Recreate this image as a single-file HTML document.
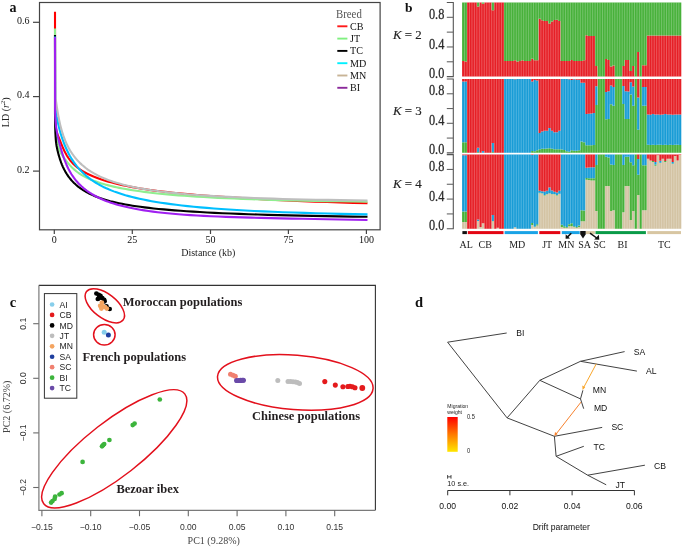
<!DOCTYPE html>
<html><head><meta charset="utf-8"><style>html,body{margin:0;padding:0;background:#fff;}svg{display:block;will-change:transform;}</style></head>
<body><svg width="685" height="547" viewBox="0 0 685 547">
<rect width="685" height="547" fill="#fff"/>
<g font-family="Liberation Serif" >
<text x="9.6" y="12.4" font-size="14" font-weight="bold" fill="#111">a</text>
<path d="M55.0,11.8 L55.10,110.11 L55.12,111.46 L55.15,112.74 L55.17,113.97 L55.20,115.14 L55.23,116.25 L55.26,117.31 L55.29,118.32 L55.32,119.28 L55.36,120.19 L55.39,121.05 L55.43,121.87 L55.47,122.65 L55.51,123.39 L55.56,124.09 L55.60,124.75 L55.65,125.38 L55.70,125.98 L55.75,126.54 L55.81,127.08 L55.86,127.59 L55.92,128.07 L55.99,128.53 L56.05,128.97 L56.12,129.39 L56.19,129.79 L56.27,130.18 L56.35,130.55 L56.43,130.91 L56.52,131.27 L56.61,131.61 L56.70,131.94 L56.80,132.28 L56.91,132.61 L57.02,132.94 L57.13,133.27 L57.25,133.60 L57.38,133.94 L57.51,134.28 L57.64,134.64 L57.79,135.00 L57.94,135.38 L58.10,135.77 L58.26,136.18 L58.44,136.61 L58.62,137.06 L58.81,137.52 L59.01,138.02 L59.22,138.54 L59.44,139.08 L59.67,139.66 L59.91,140.27 L60.16,140.91 L60.42,141.59 L60.70,142.29 L60.99,143.04 L61.29,143.81 L61.61,144.60 L61.94,145.43 L62.29,146.27 L62.65,147.14 L63.04,148.02 L63.44,148.92 L63.86,149.83 L64.29,150.76 L64.75,151.69 L65.24,152.63 L65.74,153.57 L66.27,154.52 L66.82,155.47 L67.40,156.41 L68.01,157.35 L68.64,158.29 L69.31,159.21 L70.01,160.13 L70.74,161.03 L71.50,161.93 L72.30,162.82 L73.14,163.69 L74.02,164.56 L74.94,165.41 L75.91,166.26 L76.92,167.10 L77.98,167.93 L79.09,168.75 L80.25,169.56 L81.46,170.37 L82.74,171.17 L84.07,171.96 L85.47,172.74 L86.93,173.52 L88.46,174.29 L90.07,175.05 L91.75,175.80 L93.51,176.55 L95.36,177.29 L97.29,178.03 L99.31,178.76 L101.43,179.49 L103.65,180.21 L105.98,180.93 L108.42,181.64 L110.97,182.34 L113.64,183.05 L116.44,183.74 L119.37,184.43 L122.44,185.12 L125.66,185.80 L129.03,186.47 L132.56,187.13 L136.25,187.79 L140.13,188.44 L144.18,189.08 L148.43,189.72 L152.88,190.34 L157.54,190.95 L162.42,191.56 L167.53,192.15 L172.88,192.73 L178.49,193.30 L184.37,193.86 L190.52,194.42 L196.96,194.96 L203.71,195.50 L210.78,196.03 L218.19,196.56 L225.94,197.08 L234.07,197.60 L242.58,198.12 L251.49,198.63 L260.83,199.14 L270.60,199.65 L280.84,200.15 L291.57,200.64 L302.81,201.12 L314.58,201.58 L326.90,202.03 L339.81,202.47 L353.34,202.88 L367.50,203.28" fill="none" stroke="#ff0000" stroke-width="2.1" stroke-linejoin="round"/>
<path d="M55.0,28.5 L55.10,110.19 L55.12,111.99 L55.15,113.70 L55.17,115.32 L55.20,116.85 L55.23,118.30 L55.26,119.67 L55.29,120.96 L55.32,122.18 L55.36,123.33 L55.39,124.41 L55.43,125.43 L55.47,126.39 L55.51,127.30 L55.56,128.15 L55.60,128.96 L55.65,129.71 L55.70,130.43 L55.75,131.11 L55.81,131.76 L55.86,132.37 L55.92,132.95 L55.99,133.51 L56.05,134.05 L56.12,134.58 L56.19,135.08 L56.27,135.58 L56.35,136.07 L56.43,136.56 L56.52,137.04 L56.61,137.53 L56.70,138.03 L56.80,138.53 L56.91,139.05 L57.02,139.59 L57.13,140.14 L57.25,140.72 L57.38,141.33 L57.51,141.97 L57.64,142.63 L57.79,143.32 L57.94,144.02 L58.10,144.74 L58.26,145.45 L58.44,146.17 L58.62,146.89 L58.81,147.59 L59.01,148.27 L59.22,148.93 L59.44,149.58 L59.67,150.21 L59.91,150.82 L60.16,151.41 L60.42,152.00 L60.70,152.58 L60.99,153.15 L61.29,153.72 L61.61,154.28 L61.94,154.84 L62.29,155.40 L62.65,155.97 L63.04,156.55 L63.44,157.13 L63.86,157.72 L64.29,158.32 L64.75,158.94 L65.24,159.57 L65.74,160.22 L66.27,160.90 L66.82,161.59 L67.40,162.31 L68.01,163.05 L68.64,163.80 L69.31,164.58 L70.01,165.36 L70.74,166.15 L71.50,166.95 L72.30,167.75 L73.14,168.56 L74.02,169.36 L74.94,170.15 L75.91,170.94 L76.92,171.73 L77.98,172.51 L79.09,173.28 L80.25,174.05 L81.46,174.81 L82.74,175.56 L84.07,176.31 L85.47,177.05 L86.93,177.79 L88.46,178.51 L90.07,179.23 L91.75,179.95 L93.51,180.65 L95.36,181.35 L97.29,182.04 L99.31,182.72 L101.43,183.40 L103.65,184.06 L105.98,184.72 L108.42,185.37 L110.97,186.00 L113.64,186.63 L116.44,187.26 L119.37,187.87 L122.44,188.47 L125.66,189.06 L129.03,189.65 L132.56,190.22 L136.25,190.78 L140.13,191.33 L144.18,191.87 L148.43,192.40 L152.88,192.92 L157.54,193.43 L162.42,193.93 L167.53,194.41 L172.88,194.89 L178.49,195.35 L184.37,195.79 L190.52,196.23 L196.96,196.65 L203.71,197.06 L210.78,197.46 L218.19,197.84 L225.94,198.21 L234.07,198.57 L242.58,198.91 L251.49,199.23 L260.83,199.55 L270.60,199.85 L280.84,200.13 L291.57,200.40 L302.81,200.65 L314.58,200.89 L326.90,201.11 L339.81,201.31 L353.34,201.50 L367.50,201.68" fill="none" stroke="#90ee90" stroke-width="2.1" stroke-linejoin="round"/>
<path d="M55.0,35 L55.00,112.20 L55.02,114.02 L55.04,115.76 L55.06,117.44 L55.08,119.05 L55.11,120.59 L55.13,122.07 L55.16,123.49 L55.19,124.85 L55.22,126.15 L55.25,127.40 L55.28,128.59 L55.31,129.74 L55.35,130.83 L55.38,131.88 L55.42,132.88 L55.46,133.84 L55.50,134.76 L55.55,135.65 L55.59,136.49 L55.64,137.30 L55.69,138.08 L55.75,138.83 L55.80,139.56 L55.86,140.25 L55.93,140.92 L55.99,141.57 L56.06,142.21 L56.13,142.82 L56.21,143.42 L56.28,144.00 L56.37,144.58 L56.45,145.14 L56.55,145.70 L56.64,146.26 L56.74,146.81 L56.85,147.36 L56.96,147.91 L57.07,148.46 L57.19,149.03 L57.32,149.59 L57.45,150.17 L57.59,150.76 L57.74,151.37 L57.90,151.99 L58.06,152.63 L58.23,153.28 L58.41,153.95 L58.59,154.64 L58.79,155.35 L58.99,156.07 L59.21,156.81 L59.44,157.56 L59.67,158.32 L59.92,159.10 L60.18,159.89 L60.46,160.69 L60.75,161.50 L61.05,162.32 L61.36,163.16 L61.70,164.00 L62.04,164.86 L62.41,165.72 L62.79,166.59 L63.20,167.46 L63.62,168.35 L64.06,169.24 L64.52,170.13 L65.01,171.04 L65.52,171.94 L66.06,172.85 L66.62,173.77 L67.21,174.68 L67.83,175.60 L68.48,176.52 L69.16,177.44 L69.88,178.36 L70.63,179.28 L71.41,180.20 L72.24,181.12 L73.11,182.04 L74.01,182.95 L74.97,183.86 L75.97,184.77 L77.02,185.67 L78.12,186.57 L79.27,187.46 L80.48,188.35 L81.75,189.22 L83.09,190.10 L84.48,190.96 L85.95,191.81 L87.49,192.66 L89.11,193.50 L90.80,194.32 L92.58,195.14 L94.44,195.94 L96.40,196.73 L98.45,197.51 L100.60,198.27 L102.86,199.02 L105.23,199.76 L107.72,200.48 L110.32,201.19 L113.06,201.87 L115.93,202.55 L118.94,203.20 L122.10,203.84 L125.42,204.47 L128.89,205.08 L132.54,205.67 L136.37,206.25 L140.38,206.82 L144.59,207.36 L149.01,207.90 L153.65,208.42 L158.51,208.92 L163.61,209.41 L168.96,209.89 L174.58,210.35 L180.47,210.80 L186.65,211.23 L193.13,211.65 L199.93,212.06 L207.07,212.45 L214.55,212.83 L222.41,213.19 L230.64,213.55 L239.29,213.89 L248.35,214.21 L257.87,214.53 L267.85,214.83 L278.32,215.12 L289.30,215.40 L300.82,215.66 L312.91,215.91 L325.59,216.16 L338.90,216.39 L352.86,216.60 L367.50,216.81" fill="none" stroke="#000000" stroke-width="2.1" stroke-linejoin="round"/>
<path d="M55.0,36.5 L55.20,105.55 L55.23,105.79 L55.26,106.03 L55.29,106.29 L55.32,106.56 L55.35,106.83 L55.39,107.12 L55.42,107.42 L55.46,107.73 L55.50,108.05 L55.54,108.38 L55.58,108.72 L55.63,109.07 L55.68,109.43 L55.73,109.81 L55.78,110.19 L55.83,110.59 L55.89,111.00 L55.95,111.42 L56.01,111.85 L56.08,112.30 L56.14,112.76 L56.22,113.23 L56.29,113.72 L56.37,114.21 L56.45,114.72 L56.53,115.25 L56.62,115.79 L56.72,116.34 L56.81,116.90 L56.92,117.48 L57.02,118.07 L57.13,118.68 L57.25,119.30 L57.37,119.94 L57.50,120.59 L57.63,121.25 L57.77,121.93 L57.92,122.63 L58.07,123.34 L58.23,124.06 L58.40,124.81 L58.57,125.56 L58.76,126.34 L58.95,127.13 L59.15,127.93 L59.36,128.75 L59.58,129.59 L59.81,130.45 L60.05,131.32 L60.30,132.21 L60.56,133.12 L60.83,134.04 L61.12,134.98 L61.42,135.94 L61.73,136.92 L62.06,137.91 L62.41,138.92 L62.77,139.95 L63.14,141.00 L63.53,142.07 L63.95,143.15 L64.38,144.25 L64.83,145.37 L65.30,146.50 L65.79,147.65 L66.30,148.80 L66.84,149.97 L67.41,151.15 L68.00,152.34 L68.61,153.54 L69.26,154.75 L69.93,155.97 L70.64,157.19 L71.38,158.42 L72.15,159.65 L72.96,160.89 L73.80,162.13 L74.69,163.37 L75.61,164.61 L76.58,165.86 L77.59,167.10 L78.65,168.34 L79.76,169.58 L80.92,170.82 L82.13,172.05 L83.40,173.27 L84.72,174.49 L86.11,175.70 L87.56,176.90 L89.08,178.10 L90.66,179.28 L92.32,180.46 L94.06,181.62 L95.88,182.76 L97.78,183.90 L99.77,185.02 L101.85,186.12 L104.02,187.21 L106.30,188.28 L108.68,189.33 L111.17,190.36 L113.77,191.37 L116.50,192.36 L119.34,193.33 L122.33,194.28 L125.44,195.22 L128.71,196.13 L132.12,197.02 L135.69,197.89 L139.42,198.74 L143.32,199.56 L147.41,200.37 L151.68,201.16 L156.15,201.93 L160.83,202.68 L165.72,203.40 L170.83,204.11 L176.19,204.79 L181.78,205.46 L187.64,206.10 L193.77,206.73 L200.17,207.33 L206.87,207.91 L213.89,208.47 L221.22,209.01 L228.89,209.53 L236.92,210.02 L245.31,210.50 L254.09,210.96 L263.27,211.39 L272.88,211.80 L282.93,212.19 L293.44,212.56 L304.44,212.91 L315.94,213.24 L327.98,213.54 L340.56,213.83 L353.73,214.09 L367.50,214.33" fill="none" stroke="#00bfff" stroke-width="2.1" stroke-linejoin="round"/>
<path d="M55.0,40 L55.20,99.78 L55.23,99.78 L55.26,99.78 L55.29,99.78 L55.32,99.78 L55.35,99.78 L55.39,99.78 L55.42,99.78 L55.46,99.78 L55.50,99.78 L55.54,99.78 L55.58,99.78 L55.63,99.78 L55.68,99.78 L55.73,99.78 L55.78,99.87 L55.83,100.16 L55.89,100.48 L55.95,100.83 L56.01,101.22 L56.08,101.63 L56.14,102.08 L56.22,102.55 L56.29,103.05 L56.37,103.58 L56.45,104.14 L56.53,104.72 L56.62,105.33 L56.72,105.96 L56.81,106.62 L56.92,107.31 L57.02,108.02 L57.13,108.75 L57.25,109.50 L57.37,110.27 L57.50,111.07 L57.63,111.89 L57.77,112.73 L57.92,113.58 L58.07,114.46 L58.23,115.35 L58.40,116.27 L58.57,117.20 L58.76,118.14 L58.95,119.10 L59.15,120.08 L59.36,121.07 L59.58,122.08 L59.81,123.10 L60.05,124.13 L60.30,125.18 L60.56,126.24 L60.83,127.30 L61.12,128.38 L61.42,129.47 L61.73,130.57 L62.06,131.68 L62.41,132.79 L62.77,133.92 L63.14,135.05 L63.53,136.19 L63.95,137.33 L64.38,138.48 L64.83,139.63 L65.30,140.79 L65.79,141.95 L66.30,143.11 L66.84,144.28 L67.41,145.44 L68.00,146.61 L68.61,147.78 L69.26,148.95 L69.93,150.12 L70.64,151.29 L71.38,152.45 L72.15,153.61 L72.96,154.77 L73.80,155.93 L74.69,157.08 L75.61,158.23 L76.58,159.37 L77.59,160.51 L78.65,161.63 L79.76,162.76 L80.92,163.87 L82.13,164.98 L83.40,166.07 L84.72,167.16 L86.11,168.24 L87.56,169.30 L89.08,170.36 L90.66,171.40 L92.32,172.43 L94.06,173.45 L95.88,174.45 L97.78,175.44 L99.77,176.42 L101.85,177.37 L104.02,178.32 L106.30,179.24 L108.68,180.15 L111.17,181.04 L113.77,181.91 L116.50,182.77 L119.34,183.60 L122.33,184.41 L125.44,185.21 L128.71,185.98 L132.12,186.73 L135.69,187.46 L139.42,188.18 L143.32,188.87 L147.41,189.54 L151.68,190.19 L156.15,190.83 L160.83,191.44 L165.72,192.03 L170.83,192.61 L176.19,193.16 L181.78,193.70 L187.64,194.21 L193.77,194.71 L200.17,195.19 L206.87,195.65 L213.89,196.08 L221.22,196.51 L228.89,196.91 L236.92,197.29 L245.31,197.66 L254.09,198.00 L263.27,198.33 L272.88,198.64 L282.93,198.93 L293.44,199.20 L304.44,199.46 L315.94,199.69 L327.98,199.91 L340.56,200.11 L353.73,200.29 L367.50,200.46" fill="none" stroke="#bebebe" stroke-width="2.1" stroke-linejoin="round"/>
<path d="M55.0,37.2 L55.10,112.22 L55.12,113.00 L55.15,113.76 L55.17,114.50 L55.20,115.22 L55.23,115.92 L55.26,116.60 L55.29,117.27 L55.32,117.92 L55.36,118.56 L55.39,119.18 L55.43,119.80 L55.47,120.40 L55.51,120.98 L55.56,121.56 L55.60,122.13 L55.65,122.70 L55.70,123.25 L55.75,123.80 L55.81,124.35 L55.86,124.89 L55.92,125.43 L55.99,125.97 L56.05,126.50 L56.12,127.04 L56.19,127.57 L56.27,128.11 L56.35,128.65 L56.43,129.20 L56.52,129.75 L56.61,130.31 L56.70,130.87 L56.80,131.44 L56.91,132.02 L57.02,132.61 L57.13,133.21 L57.25,133.82 L57.38,134.45 L57.51,135.09 L57.64,135.74 L57.79,136.41 L57.94,137.09 L58.10,137.80 L58.26,138.52 L58.44,139.26 L58.62,140.02 L58.81,140.80 L59.01,141.61 L59.22,142.44 L59.44,143.29 L59.67,144.17 L59.91,145.07 L60.16,146.00 L60.42,146.96 L60.70,147.95 L60.99,148.97 L61.29,150.02 L61.61,151.10 L61.94,152.20 L62.29,153.33 L62.65,154.47 L63.04,155.64 L63.44,156.82 L63.86,158.03 L64.29,159.24 L64.75,160.47 L65.24,161.71 L65.74,162.95 L66.27,164.20 L66.82,165.46 L67.40,166.72 L68.01,167.98 L68.64,169.24 L69.31,170.50 L70.01,171.75 L70.74,173.00 L71.50,174.24 L72.30,175.47 L73.14,176.71 L74.02,177.93 L74.94,179.14 L75.91,180.35 L76.92,181.55 L77.98,182.74 L79.09,183.92 L80.25,185.09 L81.46,186.24 L82.74,187.39 L84.07,188.52 L85.47,189.64 L86.93,190.74 L88.46,191.84 L90.07,192.91 L91.75,193.97 L93.51,195.01 L95.36,196.04 L97.29,197.05 L99.31,198.04 L101.43,199.01 L103.65,199.97 L105.98,200.90 L108.42,201.81 L110.97,202.71 L113.64,203.58 L116.44,204.43 L119.37,205.26 L122.44,206.06 L125.66,206.84 L129.03,207.60 L132.56,208.34 L136.25,209.05 L140.13,209.73 L144.18,210.39 L148.43,211.03 L152.88,211.63 L157.54,212.22 L162.42,212.77 L167.53,213.30 L172.88,213.79 L178.49,214.26 L184.37,214.70 L190.52,215.12 L196.96,215.50 L203.71,215.87 L210.78,216.21 L218.19,216.53 L225.94,216.83 L234.07,217.12 L242.58,217.39 L251.49,217.65 L260.83,217.89 L270.60,218.13 L280.84,218.37 L291.57,218.59 L302.81,218.82 L314.58,219.04 L326.90,219.27 L339.81,219.50 L353.34,219.73 L367.50,219.97" fill="none" stroke="#a020f0" stroke-width="2.1" stroke-linejoin="round"/>
<rect x="39.5" y="2.5" width="340.6" height="227.3" fill="none" stroke="#444" stroke-width="1.2"/>
<line x1="33" y1="22.3" x2="39.5" y2="22.3" stroke="#444" stroke-width="1.2"/>
<text x="29.6" y="23.8" font-size="10" text-anchor="end" fill="#111">0.6</text>
<line x1="33" y1="96.6" x2="39.5" y2="96.6" stroke="#444" stroke-width="1.2"/>
<text x="29.6" y="98.1" font-size="10" text-anchor="end" fill="#111">0.4</text>
<line x1="33" y1="171.1" x2="39.5" y2="171.1" stroke="#444" stroke-width="1.2"/>
<text x="29.6" y="172.6" font-size="10" text-anchor="end" fill="#111">0.2</text>
<line x1="54.3" y1="229.8" x2="54.3" y2="234" stroke="#444" stroke-width="1.2"/>
<text x="54.3" y="243.3" font-size="10" text-anchor="middle" fill="#111">0</text>
<line x1="132.3" y1="229.8" x2="132.3" y2="234" stroke="#444" stroke-width="1.2"/>
<text x="132.3" y="243.3" font-size="10" text-anchor="middle" fill="#111">25</text>
<line x1="210.5" y1="229.8" x2="210.5" y2="234" stroke="#444" stroke-width="1.2"/>
<text x="210.5" y="243.3" font-size="10" text-anchor="middle" fill="#111">50</text>
<line x1="288.4" y1="229.8" x2="288.4" y2="234" stroke="#444" stroke-width="1.2"/>
<text x="288.4" y="243.3" font-size="10" text-anchor="middle" fill="#111">75</text>
<line x1="366.4" y1="229.8" x2="366.4" y2="234" stroke="#444" stroke-width="1.2"/>
<text x="366.4" y="243.3" font-size="10" text-anchor="middle" fill="#111">100</text>
<text x="208.3" y="255.9" font-size="10" text-anchor="middle" fill="#222">Distance (kb)</text>
<text transform="translate(8.8,112.3) rotate(-90)" font-size="10" text-anchor="middle" fill="#222">LD (<tspan font-style="italic">r</tspan><tspan font-size="6.5" dy="-4">2</tspan><tspan dy="4">)</tspan></text>
<text transform="translate(336,17.8) scale(1,1.08)" font-size="10.8" fill="#555">Breed</text>
<line x1="337.3" y1="26.3" x2="347.4" y2="26.3" stroke="#ff1a1a" stroke-width="1.9"/>
<text transform="translate(350,29.8) scale(1,1.06)" font-size="10.1" fill="#111">CB</text>
<line x1="337.3" y1="38.6" x2="347.4" y2="38.6" stroke="#80f080" stroke-width="1.9"/>
<text transform="translate(350,42.1) scale(1,1.06)" font-size="10.1" fill="#111">JT</text>
<line x1="337.3" y1="50.9" x2="347.4" y2="50.9" stroke="#000" stroke-width="1.9"/>
<text transform="translate(350,54.4) scale(1,1.06)" font-size="10.1" fill="#111">TC</text>
<line x1="337.3" y1="63.2" x2="347.4" y2="63.2" stroke="#00f0ff" stroke-width="1.9"/>
<text transform="translate(350,66.7) scale(1,1.06)" font-size="10.1" fill="#111">MD</text>
<line x1="337.3" y1="75.5" x2="347.4" y2="75.5" stroke="#c8b496" stroke-width="1.9"/>
<text transform="translate(350,79.0) scale(1,1.06)" font-size="10.1" fill="#111">MN</text>
<line x1="337.3" y1="87.8" x2="347.4" y2="87.8" stroke="#8b2a9b" stroke-width="1.9"/>
<text transform="translate(350,91.3) scale(1,1.06)" font-size="10.1" fill="#111">BI</text>
</g>
<g font-family="Liberation Serif">
<text x="405" y="12.1" font-size="13.5" font-weight="bold" fill="#111">b</text>
<path d="M462.10,76.60V61.04H464.56V76.60ZM464.56,76.60V61.41H467.03V76.60ZM467.03,76.60V2.50H469.49V76.60ZM469.49,76.60V2.50H471.95V76.60ZM471.95,76.60V2.50H474.41V76.60ZM474.41,76.60V2.50H476.88V76.60ZM476.88,76.60V6.43H479.34V76.60ZM479.34,76.60V2.50H481.80V76.60ZM481.80,76.60V3.69H484.27V76.60ZM484.27,76.60V2.50H486.73V76.60ZM486.73,76.60V2.50H489.19V76.60ZM489.19,76.60V2.50H491.66V76.60ZM491.66,76.60V10.28H494.12V76.60ZM494.12,76.60V2.50H496.58V76.60ZM496.58,76.60V2.50H499.04V76.60ZM499.04,76.60V2.50H501.51V76.60ZM501.51,76.60V2.50H503.97V76.60ZM503.97,76.60V61.04H506.43V76.60ZM506.43,76.60V61.04H508.90V76.60ZM508.90,76.60V61.04H511.36V76.60ZM511.36,76.60V61.04H513.82V76.60ZM513.82,76.60V60.30H516.28V76.60ZM516.28,76.60V61.41H518.75V76.60ZM518.75,76.60V61.04H521.21V76.60ZM521.21,76.60V60.30H523.67V76.60ZM523.67,76.60V61.04H526.14V76.60ZM526.14,76.60V61.04H528.60V76.60ZM528.60,76.60V61.04H531.06V76.60ZM531.06,76.60V58.82H533.52V76.60ZM533.52,76.60V60.30H535.99V76.60ZM535.99,76.60V60.30H538.45V76.60ZM538.45,76.60V18.80H540.91V76.60ZM540.91,76.60V20.14H543.38V76.60ZM543.38,76.60V21.02H545.84V76.60ZM545.84,76.60V21.02H548.30V76.60ZM548.30,76.60V23.47H550.77V76.60ZM550.77,76.60V21.40H553.23V76.60ZM553.23,76.60V19.91H555.69V76.60ZM555.69,76.60V19.77H558.15V76.60ZM558.15,76.60V21.02H560.62V76.60ZM560.62,76.60V61.04H563.08V76.60ZM563.08,76.60V61.04H565.54V76.60ZM565.54,76.60V61.04H568.01V76.60ZM568.01,76.60V61.04H570.47V76.60ZM570.47,76.60V60.08H572.93V76.60ZM572.93,76.60V61.04H575.39V76.60ZM575.39,76.60V61.04H577.86V76.60ZM577.86,76.60V61.04H580.32V76.60ZM580.32,76.60V61.04H582.78V76.60ZM582.78,76.60V60.30H585.25V76.60ZM585.25,76.60V35.33H587.71V76.60ZM587.71,76.60V35.99H590.17V76.60ZM590.17,76.60V35.99H592.63V76.60ZM592.63,76.60V35.99H595.10V76.60ZM595.10,76.60V65.93H597.56V76.60ZM604.95,76.60V58.89H607.41V76.60ZM607.41,76.60V60.00H609.88V76.60ZM609.88,76.60V66.60H612.34V76.60ZM612.34,76.60V65.56H614.80V76.60ZM622.19,76.60V65.93H624.65V76.60ZM624.65,76.60V60.08H627.12V76.60ZM627.12,76.60V60.08H629.58V76.60ZM629.58,76.60V71.12H632.04V76.60ZM632.04,76.60V66.00H634.50V76.60ZM636.97,76.60V52.00H639.43V76.60ZM641.89,76.60V65.34H644.36V76.60ZM644.36,76.60V65.34H646.82V76.60ZM646.82,76.60V35.40H649.28V76.60ZM649.28,76.60V35.62H651.74V76.60ZM651.74,76.60V35.40H654.21V76.60ZM654.21,76.60V35.62H656.67V76.60ZM656.67,76.60V35.40H659.13V76.60ZM659.13,76.60V35.62H661.60V76.60ZM661.60,76.60V35.40H664.06V76.60ZM664.06,76.60V35.40H666.52V76.60ZM666.52,76.60V35.62H668.99V76.60ZM668.99,76.60V35.40H671.45V76.60ZM671.45,76.60V35.62H673.91V76.60ZM673.91,76.60V35.40H676.37V76.60ZM676.37,76.60V35.40H678.84V76.60ZM678.84,76.60V35.40H681.30V76.60Z" fill="#e61f26"/>
<path d="M462.10,61.04V2.50H464.56V61.04ZM464.56,61.41V2.50H467.03V61.41ZM476.88,6.43V2.50H479.34V6.43ZM481.80,3.69V2.50H484.27V3.69ZM491.66,10.28V2.50H494.12V10.28ZM503.97,61.04V2.50H506.43V61.04ZM506.43,61.04V2.50H508.90V61.04ZM508.90,61.04V2.50H511.36V61.04ZM511.36,61.04V2.50H513.82V61.04ZM513.82,60.30V2.50H516.28V60.30ZM516.28,61.41V2.50H518.75V61.41ZM518.75,61.04V2.50H521.21V61.04ZM521.21,60.30V2.50H523.67V60.30ZM523.67,61.04V2.50H526.14V61.04ZM526.14,61.04V2.50H528.60V61.04ZM528.60,61.04V2.50H531.06V61.04ZM531.06,58.82V2.50H533.52V58.82ZM533.52,60.30V2.50H535.99V60.30ZM535.99,60.30V2.50H538.45V60.30ZM538.45,18.80V2.50H540.91V18.80ZM540.91,20.14V2.50H543.38V20.14ZM543.38,21.02V2.50H545.84V21.02ZM545.84,21.02V2.50H548.30V21.02ZM548.30,23.47V2.50H550.77V23.47ZM550.77,21.40V2.50H553.23V21.40ZM553.23,19.91V2.50H555.69V19.91ZM555.69,19.77V2.50H558.15V19.77ZM558.15,21.02V2.50H560.62V21.02ZM560.62,61.04V2.50H563.08V61.04ZM563.08,61.04V2.50H565.54V61.04ZM565.54,61.04V2.50H568.01V61.04ZM568.01,61.04V2.50H570.47V61.04ZM570.47,60.08V2.50H572.93V60.08ZM572.93,61.04V2.50H575.39V61.04ZM575.39,61.04V2.50H577.86V61.04ZM577.86,61.04V2.50H580.32V61.04ZM580.32,61.04V2.50H582.78V61.04ZM582.78,60.30V2.50H585.25V60.30ZM585.25,35.33V2.50H587.71V35.33ZM587.71,35.99V2.50H590.17V35.99ZM590.17,35.99V2.50H592.63V35.99ZM592.63,35.99V2.50H595.10V35.99ZM595.10,65.93V2.50H597.56V65.93ZM597.56,76.60V2.50H600.02V76.60ZM600.02,76.60V2.50H602.49V76.60ZM602.49,76.60V2.50H604.95V76.60ZM604.95,58.89V2.50H607.41V58.89ZM607.41,60.00V2.50H609.88V60.00ZM609.88,66.60V2.50H612.34V66.60ZM612.34,65.56V2.50H614.80V65.56ZM614.80,76.60V2.50H617.26V76.60ZM617.26,76.60V2.50H619.73V76.60ZM619.73,76.60V2.50H622.19V76.60ZM622.19,65.93V2.50H624.65V65.93ZM624.65,60.08V2.50H627.12V60.08ZM627.12,60.08V2.50H629.58V60.08ZM629.58,71.12V2.50H632.04V71.12ZM632.04,66.00V2.50H634.50V66.00ZM634.50,76.60V2.50H636.97V76.60ZM636.97,52.00V2.50H639.43V52.00ZM639.43,76.60V2.50H641.89V76.60ZM641.89,65.34V2.50H644.36V65.34ZM644.36,65.34V2.50H646.82V65.34ZM646.82,35.40V2.50H649.28V35.40ZM649.28,35.62V2.50H651.74V35.62ZM651.74,35.40V2.50H654.21V35.40ZM654.21,35.62V2.50H656.67V35.62ZM656.67,35.40V2.50H659.13V35.40ZM659.13,35.62V2.50H661.60V35.62ZM661.60,35.40V2.50H664.06V35.40ZM664.06,35.40V2.50H666.52V35.40ZM666.52,35.62V2.50H668.99V35.62ZM668.99,35.40V2.50H671.45V35.40ZM671.45,35.62V2.50H673.91V35.62ZM673.91,35.40V2.50H676.37V35.40ZM676.37,35.40V2.50H678.84V35.40ZM678.84,35.40V2.50H681.30V35.40Z" fill="#47b13a"/>
<path d="M464.56,2.50V76.60M467.03,2.50V76.60M469.49,2.50V76.60M471.95,2.50V76.60M474.41,2.50V76.60M476.88,2.50V76.60M479.34,2.50V76.60M481.80,2.50V76.60M484.27,2.50V76.60M486.73,2.50V76.60M489.19,2.50V76.60M491.66,2.50V76.60M494.12,2.50V76.60M496.58,2.50V76.60M499.04,2.50V76.60M501.51,2.50V76.60M503.97,2.50V76.60M506.43,2.50V76.60M508.90,2.50V76.60M511.36,2.50V76.60M513.82,2.50V76.60M516.28,2.50V76.60M518.75,2.50V76.60M521.21,2.50V76.60M523.67,2.50V76.60M526.14,2.50V76.60M528.60,2.50V76.60M531.06,2.50V76.60M533.52,2.50V76.60M535.99,2.50V76.60M538.45,2.50V76.60M540.91,2.50V76.60M543.38,2.50V76.60M545.84,2.50V76.60M548.30,2.50V76.60M550.77,2.50V76.60M553.23,2.50V76.60M555.69,2.50V76.60M558.15,2.50V76.60M560.62,2.50V76.60M563.08,2.50V76.60M565.54,2.50V76.60M568.01,2.50V76.60M570.47,2.50V76.60M572.93,2.50V76.60M575.39,2.50V76.60M577.86,2.50V76.60M580.32,2.50V76.60M582.78,2.50V76.60M585.25,2.50V76.60M587.71,2.50V76.60M590.17,2.50V76.60M592.63,2.50V76.60M595.10,2.50V76.60M597.56,2.50V76.60M600.02,2.50V76.60M602.49,2.50V76.60M604.95,2.50V76.60M607.41,2.50V76.60M609.88,2.50V76.60M612.34,2.50V76.60M614.80,2.50V76.60M617.26,2.50V76.60M619.73,2.50V76.60M622.19,2.50V76.60M624.65,2.50V76.60M627.12,2.50V76.60M629.58,2.50V76.60M632.04,2.50V76.60M634.50,2.50V76.60M636.97,2.50V76.60M639.43,2.50V76.60M641.89,2.50V76.60M644.36,2.50V76.60M646.82,2.50V76.60M649.28,2.50V76.60M651.74,2.50V76.60M654.21,2.50V76.60M656.67,2.50V76.60M659.13,2.50V76.60M661.60,2.50V76.60M664.06,2.50V76.60M666.52,2.50V76.60M668.99,2.50V76.60M671.45,2.50V76.60M673.91,2.50V76.60M676.37,2.50V76.60M678.84,2.50V76.60" stroke="#fff" stroke-width="0.5" stroke-opacity="0.5" fill="none"/>
<path d="M462.10,152.85V142.14H464.56V152.85ZM464.56,152.85V142.14H467.03V152.85ZM476.88,152.85V152.11H479.34V152.85ZM491.66,152.85V152.11H494.12V152.85ZM531.06,152.85V150.93H533.52V152.85ZM533.52,152.85V151.37H535.99V152.85ZM535.99,152.85V150.19H538.45V152.85ZM538.45,152.85V149.16H540.91V152.85ZM540.91,152.85V148.79H543.38V152.85ZM543.38,152.85V148.79H545.84V152.85ZM545.84,152.85V148.57H548.30V152.85ZM548.30,152.85V148.27H550.77V152.85ZM550.77,152.85V148.79H553.23V152.85ZM553.23,152.85V149.16H555.69V152.85ZM555.69,152.85V149.16H558.15V152.85ZM558.15,152.85V149.16H560.62V152.85ZM560.62,152.85V149.38H563.08V152.85ZM563.08,152.85V149.90H565.54V152.85ZM565.54,152.85V151.37H568.01V152.85ZM568.01,152.85V151.74H570.47V152.85ZM570.47,152.85V150.19H572.93V152.85ZM572.93,152.85V150.63H575.39V152.85ZM575.39,152.85V150.63H577.86V152.85ZM577.86,152.85V150.27H580.32V152.85ZM580.32,152.85V141.55H582.78V152.85ZM582.78,152.85V142.14H585.25V152.85ZM585.25,152.85V145.32H587.71V152.85ZM587.71,152.85V145.32H590.17V152.85ZM590.17,152.85V145.32H592.63V152.85ZM592.63,152.85V145.10H595.10V152.85ZM595.10,152.85V105.07H597.56V152.85ZM597.56,152.85V79.00H600.02V152.85ZM600.02,152.85V79.00H602.49V152.85ZM602.49,152.85V79.00H604.95V152.85ZM604.95,152.85V119.32H607.41V152.85ZM607.41,152.85V118.95H609.88V152.85ZM609.88,152.85V104.33H612.34V152.85ZM612.34,152.85V105.73H614.80V152.85ZM614.80,152.85V79.00H617.26V152.85ZM617.26,152.85V79.00H619.73V152.85ZM619.73,152.85V79.00H622.19V152.85ZM622.19,152.85V104.11H624.65V152.85ZM624.65,152.85V119.03H627.12V152.85ZM627.12,152.85V119.03H629.58V152.85ZM629.58,152.85V94.43H632.04V152.85ZM632.04,152.85V105.81H634.50V152.85ZM634.50,152.85V79.00H636.97V152.85ZM636.97,152.85V129.73H639.43V152.85ZM639.43,152.85V79.00H641.89V152.85ZM641.89,152.85V105.81H644.36V152.85ZM644.36,152.85V105.81H646.82V152.85ZM646.82,152.85V144.73H649.28V152.85ZM649.28,152.85V145.10H651.74V152.85ZM651.74,152.85V144.73H654.21V152.85ZM654.21,152.85V145.10H656.67V152.85ZM656.67,152.85V144.73H659.13V152.85ZM659.13,152.85V144.73H661.60V152.85ZM661.60,152.85V145.10H664.06V152.85ZM664.06,152.85V144.73H666.52V152.85ZM666.52,152.85V145.10H668.99V152.85ZM668.99,152.85V144.73H671.45V152.85ZM671.45,152.85V145.10H673.91V152.85ZM673.91,152.85V144.73H676.37V152.85ZM676.37,152.85V144.73H678.84V152.85ZM678.84,152.85V145.10H681.30V152.85Z" fill="#47b13a"/>
<path d="M462.10,142.14V81.51H464.56V142.14ZM464.56,142.14V81.51H467.03V142.14ZM476.88,152.11V147.68H479.34V152.11ZM481.80,152.85V150.93H484.27V152.85ZM491.66,152.11V143.03H494.12V152.11ZM503.97,152.85V79.00H506.43V152.85ZM506.43,152.85V79.00H508.90V152.85ZM508.90,152.85V79.00H511.36V152.85ZM511.36,152.85V79.00H513.82V152.85ZM513.82,152.85V79.22H516.28V152.85ZM516.28,152.85V79.00H518.75V152.85ZM518.75,152.85V79.00H521.21V152.85ZM521.21,152.85V79.00H523.67V152.85ZM523.67,152.85V79.00H526.14V152.85ZM526.14,152.85V79.00H528.60V152.85ZM528.60,152.85V79.00H531.06V152.85ZM531.06,150.93V81.51H533.52V150.93ZM533.52,151.37V80.11H535.99V151.37ZM535.99,150.19V80.48H538.45V150.19ZM538.45,149.16V132.91H540.91V149.16ZM540.91,148.79V131.51H543.38V148.79ZM543.38,148.79V130.84H545.84V148.79ZM545.84,148.57V130.69H548.30V148.57ZM548.30,148.27V128.04H550.77V148.27ZM550.77,148.79V130.84H553.23V148.79ZM553.23,149.16V132.17H555.69V149.16ZM555.69,149.16V132.17H558.15V149.16ZM558.15,149.16V130.69H560.62V149.16ZM560.62,149.38V79.00H563.08V149.38ZM563.08,149.90V79.00H565.54V149.90ZM565.54,151.37V79.00H568.01V151.37ZM568.01,151.74V79.37H570.47V151.74ZM570.47,150.19V80.11H572.93V150.19ZM572.93,150.63V79.37H575.39V150.63ZM575.39,150.63V79.74H577.86V150.63ZM577.86,150.27V79.74H580.32V150.27ZM580.32,141.55V82.84H582.78V141.55ZM582.78,142.14V82.84H585.25V142.14ZM585.25,145.32V114.08H587.71V145.32ZM587.71,145.32V113.71H590.17V145.32ZM590.17,145.32V113.41H592.63V145.32ZM592.63,145.10V113.12H595.10V145.10ZM595.10,105.07V86.31H597.56V105.07ZM604.95,119.32V91.92H607.41V119.32ZM607.41,118.95V91.26H609.88V118.95ZM609.88,104.33V85.57H612.34V104.33ZM612.34,105.73V87.05H614.80V105.73ZM622.19,104.11V86.02H624.65V104.11ZM624.65,119.03V91.19H627.12V119.03ZM627.12,119.03V91.55H629.58V119.03ZM629.58,94.43V82.18H632.04V94.43ZM632.04,105.81V86.61H634.50V105.81ZM636.97,129.73V97.46H639.43V129.73ZM641.89,105.81V87.05H644.36V105.81ZM644.36,105.81V87.05H646.82V105.81ZM646.82,144.73V114.45H649.28V144.73ZM649.28,145.10V114.82H651.74V145.10ZM651.74,144.73V114.08H654.21V144.73ZM654.21,145.10V114.45H656.67V145.10ZM656.67,144.73V114.45H659.13V144.73ZM659.13,144.73V114.82H661.60V144.73ZM661.60,145.10V114.45H664.06V145.10ZM664.06,144.73V114.08H666.52V144.73ZM666.52,145.10V114.45H668.99V145.10ZM668.99,144.73V114.45H671.45V144.73ZM671.45,145.10V114.82H673.91V145.10ZM673.91,144.73V114.45H676.37V144.73ZM676.37,144.73V114.45H678.84V144.73ZM678.84,145.10V114.45H681.30V145.10Z" fill="#189cd6"/>
<path d="M462.10,81.51V79.00H464.56V81.51ZM464.56,81.51V79.00H467.03V81.51ZM467.03,152.85V79.00H469.49V152.85ZM469.49,152.85V79.00H471.95V152.85ZM471.95,152.85V79.00H474.41V152.85ZM474.41,152.85V79.00H476.88V152.85ZM476.88,147.68V79.00H479.34V147.68ZM479.34,152.85V79.00H481.80V152.85ZM481.80,150.93V79.00H484.27V150.93ZM484.27,152.85V79.00H486.73V152.85ZM486.73,152.85V79.00H489.19V152.85ZM489.19,152.85V79.00H491.66V152.85ZM491.66,143.03V79.00H494.12V143.03ZM494.12,152.85V79.00H496.58V152.85ZM496.58,152.85V79.00H499.04V152.85ZM499.04,152.85V79.00H501.51V152.85ZM501.51,152.85V79.00H503.97V152.85ZM513.82,79.22V79.00H516.28V79.22ZM531.06,81.51V79.00H533.52V81.51ZM533.52,80.11V79.00H535.99V80.11ZM535.99,80.48V79.00H538.45V80.48ZM538.45,132.91V79.00H540.91V132.91ZM540.91,131.51V79.00H543.38V131.51ZM543.38,130.84V79.00H545.84V130.84ZM545.84,130.69V79.00H548.30V130.69ZM548.30,128.04V79.00H550.77V128.04ZM550.77,130.84V79.00H553.23V130.84ZM553.23,132.17V79.00H555.69V132.17ZM555.69,132.17V79.00H558.15V132.17ZM558.15,130.69V79.00H560.62V130.69ZM568.01,79.37V79.00H570.47V79.37ZM570.47,80.11V79.00H572.93V80.11ZM572.93,79.37V79.00H575.39V79.37ZM575.39,79.74V79.00H577.86V79.74ZM577.86,79.74V79.00H580.32V79.74ZM580.32,82.84V79.00H582.78V82.84ZM582.78,82.84V79.00H585.25V82.84ZM585.25,114.08V79.00H587.71V114.08ZM587.71,113.71V79.00H590.17V113.71ZM590.17,113.41V79.00H592.63V113.41ZM592.63,113.12V79.00H595.10V113.12ZM595.10,86.31V79.00H597.56V86.31ZM604.95,91.92V79.00H607.41V91.92ZM607.41,91.26V79.00H609.88V91.26ZM609.88,85.57V79.00H612.34V85.57ZM612.34,87.05V79.00H614.80V87.05ZM622.19,86.02V79.00H624.65V86.02ZM624.65,91.19V79.00H627.12V91.19ZM627.12,91.55V79.00H629.58V91.55ZM629.58,82.18V79.00H632.04V82.18ZM632.04,86.61V79.00H634.50V86.61ZM636.97,97.46V79.00H639.43V97.46ZM641.89,87.05V79.00H644.36V87.05ZM644.36,87.05V79.00H646.82V87.05ZM646.82,114.45V79.00H649.28V114.45ZM649.28,114.82V79.00H651.74V114.82ZM651.74,114.08V79.00H654.21V114.08ZM654.21,114.45V79.00H656.67V114.45ZM656.67,114.45V79.00H659.13V114.45ZM659.13,114.82V79.00H661.60V114.82ZM661.60,114.45V79.00H664.06V114.45ZM664.06,114.08V79.00H666.52V114.08ZM666.52,114.45V79.00H668.99V114.45ZM668.99,114.45V79.00H671.45V114.45ZM671.45,114.82V79.00H673.91V114.82ZM673.91,114.45V79.00H676.37V114.45ZM676.37,114.45V79.00H678.84V114.45ZM678.84,114.45V79.00H681.30V114.45Z" fill="#e61f26"/>
<path d="M464.56,79.00V152.85M467.03,79.00V152.85M469.49,79.00V152.85M471.95,79.00V152.85M474.41,79.00V152.85M476.88,79.00V152.85M479.34,79.00V152.85M481.80,79.00V152.85M484.27,79.00V152.85M486.73,79.00V152.85M489.19,79.00V152.85M491.66,79.00V152.85M494.12,79.00V152.85M496.58,79.00V152.85M499.04,79.00V152.85M501.51,79.00V152.85M503.97,79.00V152.85M506.43,79.00V152.85M508.90,79.00V152.85M511.36,79.00V152.85M513.82,79.00V152.85M516.28,79.00V152.85M518.75,79.00V152.85M521.21,79.00V152.85M523.67,79.00V152.85M526.14,79.00V152.85M528.60,79.00V152.85M531.06,79.00V152.85M533.52,79.00V152.85M535.99,79.00V152.85M538.45,79.00V152.85M540.91,79.00V152.85M543.38,79.00V152.85M545.84,79.00V152.85M548.30,79.00V152.85M550.77,79.00V152.85M553.23,79.00V152.85M555.69,79.00V152.85M558.15,79.00V152.85M560.62,79.00V152.85M563.08,79.00V152.85M565.54,79.00V152.85M568.01,79.00V152.85M570.47,79.00V152.85M572.93,79.00V152.85M575.39,79.00V152.85M577.86,79.00V152.85M580.32,79.00V152.85M582.78,79.00V152.85M585.25,79.00V152.85M587.71,79.00V152.85M590.17,79.00V152.85M592.63,79.00V152.85M595.10,79.00V152.85M597.56,79.00V152.85M600.02,79.00V152.85M602.49,79.00V152.85M604.95,79.00V152.85M607.41,79.00V152.85M609.88,79.00V152.85M612.34,79.00V152.85M614.80,79.00V152.85M617.26,79.00V152.85M619.73,79.00V152.85M622.19,79.00V152.85M624.65,79.00V152.85M627.12,79.00V152.85M629.58,79.00V152.85M632.04,79.00V152.85M634.50,79.00V152.85M636.97,79.00V152.85M639.43,79.00V152.85M641.89,79.00V152.85M644.36,79.00V152.85M646.82,79.00V152.85M649.28,79.00V152.85M651.74,79.00V152.85M654.21,79.00V152.85M656.67,79.00V152.85M659.13,79.00V152.85M661.60,79.00V152.85M664.06,79.00V152.85M666.52,79.00V152.85M668.99,79.00V152.85M671.45,79.00V152.85M673.91,79.00V152.85M676.37,79.00V152.85M678.84,79.00V152.85" stroke="#fff" stroke-width="0.5" stroke-opacity="0.5" fill="none"/>
<path d="M462.10,228.75V222.08H464.56V228.75ZM464.56,228.75V222.08H467.03V228.75ZM476.88,228.75V220.96H479.34V228.75ZM479.34,228.75V226.90H481.80V228.75ZM481.80,228.75V223.19H484.27V228.75ZM491.66,228.75V221.34H494.12V228.75ZM496.58,228.75V227.86H499.04V228.75ZM513.82,228.75V227.27H516.28V228.75ZM531.06,228.75V225.04H533.52V228.75ZM533.52,228.75V226.90H535.99V228.75ZM535.99,228.75V225.41H538.45V228.75ZM538.45,228.75V193.16H540.91V228.75ZM540.91,228.75V193.60H543.38V228.75ZM543.38,228.75V195.38H545.84V228.75ZM545.84,228.75V194.27H548.30V228.75ZM548.30,228.75V193.60H550.77V228.75ZM550.77,228.75V194.27H553.23V228.75ZM553.23,228.75V194.27H555.69V228.75ZM555.69,228.75V195.38H558.15V228.75ZM558.15,228.75V194.05H560.62V228.75ZM560.62,228.75V226.90H563.08V228.75ZM563.08,228.75V227.64H565.54V228.75ZM565.54,228.75V227.86H568.01V228.75ZM568.01,228.75V226.23H570.47V228.75ZM570.47,228.75V226.23H572.93V228.75ZM572.93,228.75V226.90H575.39V228.75ZM575.39,228.75V227.64H577.86V228.75ZM577.86,228.75V226.90H580.32V228.75ZM580.32,228.75V221.34H582.78V228.75ZM582.78,228.75V221.34H585.25V228.75ZM585.25,228.75V179.66H587.71V228.75ZM587.71,228.75V180.03H590.17V228.75ZM590.17,228.75V180.40H592.63V228.75ZM592.63,228.75V180.40H595.10V228.75ZM595.10,228.75V210.95H597.56V228.75ZM604.95,228.75V185.97H607.41V228.75ZM607.41,228.75V185.97H609.88V228.75ZM609.88,228.75V210.95H612.34V228.75ZM612.34,228.75V210.21H614.80V228.75ZM622.19,228.75V212.29H624.65V228.75ZM624.65,228.75V185.97H627.12V228.75ZM627.12,228.75V185.97H629.58V228.75ZM629.58,228.75V220.07H632.04V228.75ZM632.04,228.75V211.03H634.50V228.75ZM636.97,228.75V195.01H639.43V228.75ZM641.89,228.75V210.36H644.36V228.75ZM644.36,228.75V210.36H646.82V228.75ZM646.82,228.75V158.83H649.28V228.75ZM649.28,228.75V160.53H651.74V228.75ZM651.74,228.75V161.90H654.21V228.75ZM654.21,228.75V165.80H656.67V228.75ZM656.67,228.75V155.19H659.13V228.75ZM659.13,228.75V162.98H661.60V228.75ZM661.60,228.75V158.83H664.06V228.75ZM664.06,228.75V161.90H666.52V228.75ZM666.52,228.75V158.83H668.99V228.75ZM668.99,228.75V158.83H671.45V228.75ZM671.45,228.75V164.09H673.91V228.75ZM673.91,228.75V156.08H676.37V228.75ZM676.37,228.75V160.53H678.84V228.75ZM678.84,228.75V154.97H681.30V228.75Z" fill="#d3c3a3"/>
<path d="M462.10,222.08V211.62H464.56V222.08ZM464.56,222.08V211.62H467.03V222.08ZM491.66,221.34V220.96H494.12V221.34ZM531.06,225.04V223.11H533.52V225.04ZM533.52,226.90V226.53H535.99V226.90ZM535.99,225.41V224.15H538.45V225.41ZM538.45,193.16V192.79H540.91V193.16ZM540.91,193.60V193.31H543.38V193.60ZM543.38,195.38V195.01H545.84V195.38ZM545.84,194.27V193.90H548.30V194.27ZM548.30,193.60V193.16H550.77V193.60ZM550.77,194.27V193.90H553.23V194.27ZM553.23,194.27V193.90H555.69V194.27ZM555.69,195.38V195.01H558.15V195.38ZM558.15,194.05V193.75H560.62V194.05ZM560.62,226.90V224.67H563.08V226.90ZM563.08,227.64V226.23H565.54V227.64ZM565.54,227.86V226.90H568.01V227.86ZM568.01,226.23V224.15H570.47V226.23ZM570.47,226.23V223.19H572.93V226.23ZM572.93,226.90V226.23H575.39V226.90ZM575.39,227.64V226.90H577.86V227.64ZM577.86,226.90V225.56H580.32V226.90ZM580.32,221.34V210.21H582.78V221.34ZM582.78,221.34V210.58H585.25V221.34ZM585.25,179.66V177.88H587.71V179.66ZM587.71,180.03V178.25H590.17V180.03ZM590.17,180.40V178.25H592.63V180.40ZM592.63,180.40V178.25H595.10V180.40ZM595.10,210.95V165.06H597.56V210.95ZM597.56,228.75V154.60H600.02V228.75ZM600.02,228.75V154.60H602.49V228.75ZM602.49,228.75V154.60H604.95V228.75ZM604.95,185.97V156.82H607.41V185.97ZM607.41,185.97V157.49H609.88V185.97ZM609.88,210.95V164.39H612.34V210.95ZM612.34,210.21V165.06H614.80V210.21ZM614.80,228.75V154.60H617.26V228.75ZM617.26,228.75V154.60H619.73V228.75ZM619.73,228.75V154.60H622.19V228.75ZM622.19,212.29V165.06H624.65V212.29ZM624.65,185.97V156.82H627.12V185.97ZM627.12,185.97V156.82H629.58V185.97ZM629.58,220.07V162.31H632.04V220.07ZM632.04,211.03V165.13H634.50V211.03ZM634.50,228.75V154.60H636.97V228.75ZM636.97,195.01V174.84H639.43V195.01ZM639.43,228.75V154.60H641.89V228.75ZM641.89,210.36V165.13H644.36V210.36ZM644.36,210.36V165.13H646.82V210.36ZM651.74,161.90V160.98H654.21V161.90ZM654.21,165.80V164.39H656.67V165.80ZM659.13,162.98V162.76H661.60V162.98ZM664.06,161.90V160.98H666.52V161.90ZM671.45,164.09V163.50H673.91V164.09Z" fill="#47b13a"/>
<path d="M462.10,211.62V155.34H464.56V211.62ZM464.56,211.62V155.34H467.03V211.62ZM476.88,220.96V219.48H479.34V220.96ZM491.66,220.96V215.11H494.12V220.96ZM503.97,228.75V154.60H506.43V228.75ZM506.43,228.75V154.60H508.90V228.75ZM508.90,228.75V154.60H511.36V228.75ZM511.36,228.75V154.60H513.82V228.75ZM513.82,227.27V154.60H516.28V227.27ZM516.28,228.75V154.60H518.75V228.75ZM518.75,228.75V154.60H521.21V228.75ZM521.21,228.75V154.60H523.67V228.75ZM523.67,228.75V154.60H526.14V228.75ZM526.14,228.75V154.60H528.60V228.75ZM528.60,228.75V154.60H531.06V228.75ZM531.06,223.11V154.97H533.52V223.11ZM533.52,226.53V154.60H535.99V226.53ZM535.99,224.15V154.60H538.45V224.15ZM538.45,192.79V190.79H540.91V192.79ZM540.91,193.31V191.16H543.38V193.31ZM543.38,195.01V191.45H545.84V195.01ZM545.84,193.90V190.79H548.30V193.90ZM548.30,193.16V187.60H550.77V193.16ZM550.77,193.90V190.41H553.23V193.90ZM553.23,193.90V191.68H555.69V193.90ZM555.69,195.01V192.42H558.15V195.01ZM558.15,193.75V190.79H560.62V193.75ZM560.62,224.67V154.60H563.08V224.67ZM563.08,226.23V154.60H565.54V226.23ZM565.54,226.90V154.60H568.01V226.90ZM568.01,224.15V154.60H570.47V224.15ZM570.47,223.19V154.60H572.93V223.19ZM572.93,226.23V154.60H575.39V226.23ZM575.39,226.90V154.60H577.86V226.90ZM577.86,225.56V154.60H580.32V225.56ZM580.32,210.21V154.60H582.78V210.21ZM582.78,210.58V154.60H585.25V210.58ZM585.25,177.88V167.87H587.71V177.88ZM587.71,178.25V167.58H590.17V178.25ZM590.17,178.25V167.21H592.63V178.25ZM592.63,178.25V167.21H595.10V178.25ZM595.10,165.06V154.60H597.56V165.06ZM604.95,156.82V154.60H607.41V156.82ZM607.41,157.49V154.60H609.88V157.49ZM609.88,164.39V154.60H612.34V164.39ZM612.34,165.06V154.60H614.80V165.06ZM622.19,165.06V154.60H624.65V165.06ZM624.65,156.82V154.60H627.12V156.82ZM627.12,156.82V154.60H629.58V156.82ZM629.58,162.31V154.60H632.04V162.31ZM632.04,165.13V154.60H634.50V165.13ZM636.97,174.84V158.90H639.43V174.84ZM641.89,165.13V154.60H644.36V165.13ZM644.36,165.13V154.60H646.82V165.13ZM654.21,164.39V161.90H656.67V164.39ZM659.13,162.76V160.83H661.60V162.76ZM671.45,163.50V161.90H673.91V163.50Z" fill="#189cd6"/>
<path d="M462.10,155.34V154.60H464.56V155.34ZM464.56,155.34V154.60H467.03V155.34ZM467.03,228.75V154.60H469.49V228.75ZM469.49,228.75V154.60H471.95V228.75ZM471.95,228.75V154.60H474.41V228.75ZM474.41,228.75V154.60H476.88V228.75ZM476.88,219.48V154.60H479.34V219.48ZM479.34,226.90V154.60H481.80V226.90ZM481.80,223.19V154.60H484.27V223.19ZM484.27,228.75V154.60H486.73V228.75ZM486.73,228.75V154.60H489.19V228.75ZM489.19,228.75V154.60H491.66V228.75ZM491.66,215.11V154.60H494.12V215.11ZM494.12,228.75V154.60H496.58V228.75ZM496.58,227.86V154.60H499.04V227.86ZM499.04,228.75V154.60H501.51V228.75ZM501.51,228.75V154.60H503.97V228.75ZM531.06,154.97V154.60H533.52V154.97ZM538.45,190.79V154.60H540.91V190.79ZM540.91,191.16V154.60H543.38V191.16ZM543.38,191.45V154.60H545.84V191.45ZM545.84,190.79V154.60H548.30V190.79ZM548.30,187.60V154.60H550.77V187.60ZM550.77,190.41V154.60H553.23V190.41ZM553.23,191.68V154.60H555.69V191.68ZM555.69,192.42V154.60H558.15V192.42ZM558.15,190.79V154.60H560.62V190.79ZM585.25,167.87V154.60H587.71V167.87ZM587.71,167.58V154.60H590.17V167.58ZM590.17,167.21V154.60H592.63V167.21ZM592.63,167.21V154.60H595.10V167.21ZM636.97,158.90V154.60H639.43V158.90ZM646.82,158.83V154.60H649.28V158.83ZM649.28,160.53V154.60H651.74V160.53ZM651.74,160.98V154.60H654.21V160.98ZM654.21,161.90V154.60H656.67V161.90ZM656.67,155.19V154.60H659.13V155.19ZM659.13,160.83V154.60H661.60V160.83ZM661.60,158.83V154.60H664.06V158.83ZM664.06,160.98V154.60H666.52V160.98ZM666.52,158.83V154.60H668.99V158.83ZM668.99,158.83V154.60H671.45V158.83ZM671.45,161.90V154.60H673.91V161.90ZM673.91,156.08V154.60H676.37V156.08ZM676.37,160.53V154.60H678.84V160.53ZM678.84,154.97V154.60H681.30V154.97Z" fill="#e61f26"/>
<path d="M464.56,154.60V228.75M467.03,154.60V228.75M469.49,154.60V228.75M471.95,154.60V228.75M474.41,154.60V228.75M476.88,154.60V228.75M479.34,154.60V228.75M481.80,154.60V228.75M484.27,154.60V228.75M486.73,154.60V228.75M489.19,154.60V228.75M491.66,154.60V228.75M494.12,154.60V228.75M496.58,154.60V228.75M499.04,154.60V228.75M501.51,154.60V228.75M503.97,154.60V228.75M506.43,154.60V228.75M508.90,154.60V228.75M511.36,154.60V228.75M513.82,154.60V228.75M516.28,154.60V228.75M518.75,154.60V228.75M521.21,154.60V228.75M523.67,154.60V228.75M526.14,154.60V228.75M528.60,154.60V228.75M531.06,154.60V228.75M533.52,154.60V228.75M535.99,154.60V228.75M538.45,154.60V228.75M540.91,154.60V228.75M543.38,154.60V228.75M545.84,154.60V228.75M548.30,154.60V228.75M550.77,154.60V228.75M553.23,154.60V228.75M555.69,154.60V228.75M558.15,154.60V228.75M560.62,154.60V228.75M563.08,154.60V228.75M565.54,154.60V228.75M568.01,154.60V228.75M570.47,154.60V228.75M572.93,154.60V228.75M575.39,154.60V228.75M577.86,154.60V228.75M580.32,154.60V228.75M582.78,154.60V228.75M585.25,154.60V228.75M587.71,154.60V228.75M590.17,154.60V228.75M592.63,154.60V228.75M595.10,154.60V228.75M597.56,154.60V228.75M600.02,154.60V228.75M602.49,154.60V228.75M604.95,154.60V228.75M607.41,154.60V228.75M609.88,154.60V228.75M612.34,154.60V228.75M614.80,154.60V228.75M617.26,154.60V228.75M619.73,154.60V228.75M622.19,154.60V228.75M624.65,154.60V228.75M627.12,154.60V228.75M629.58,154.60V228.75M632.04,154.60V228.75M634.50,154.60V228.75M636.97,154.60V228.75M639.43,154.60V228.75M641.89,154.60V228.75M644.36,154.60V228.75M646.82,154.60V228.75M649.28,154.60V228.75M651.74,154.60V228.75M654.21,154.60V228.75M656.67,154.60V228.75M659.13,154.60V228.75M661.60,154.60V228.75M664.06,154.60V228.75M666.52,154.60V228.75M668.99,154.60V228.75M671.45,154.60V228.75M673.91,154.60V228.75M676.37,154.60V228.75M678.84,154.60V228.75" stroke="#fff" stroke-width="0.5" stroke-opacity="0.5" fill="none"/>
<path d="M446.8,2.50H453.3V76.60H446.8" fill="none" stroke="#555" stroke-width="1.1"/>
<line x1="446.8" y1="61.78" x2="453.3" y2="61.78" stroke="#666" stroke-width="1.1"/>
<line x1="446.8" y1="46.96" x2="453.3" y2="46.96" stroke="#666" stroke-width="1.1"/>
<line x1="446.8" y1="32.14" x2="453.3" y2="32.14" stroke="#666" stroke-width="1.1"/>
<line x1="446.8" y1="17.32" x2="453.3" y2="17.32" stroke="#666" stroke-width="1.1"/>
<text transform="translate(444.3,78.20) scale(1,1.13)" font-size="12.3" text-anchor="end" fill="#2a2a2a" stroke="#2a2a2a" stroke-width="0.25">0.0</text>
<text transform="translate(444.3,48.56) scale(1,1.13)" font-size="12.3" text-anchor="end" fill="#2a2a2a" stroke="#2a2a2a" stroke-width="0.25">0.4</text>
<text transform="translate(444.3,18.92) scale(1,1.13)" font-size="12.3" text-anchor="end" fill="#2a2a2a" stroke="#2a2a2a" stroke-width="0.25">0.8</text>
<text transform="translate(393,38.9) scale(1,1.02)" font-size="12.9" fill="#222" stroke="#222" stroke-width="0.15"><tspan font-style="italic">K</tspan> = 2</text>
<path d="M446.8,79.00H453.3V152.85H446.8" fill="none" stroke="#555" stroke-width="1.1"/>
<line x1="446.8" y1="138.08" x2="453.3" y2="138.08" stroke="#666" stroke-width="1.1"/>
<line x1="446.8" y1="123.31" x2="453.3" y2="123.31" stroke="#666" stroke-width="1.1"/>
<line x1="446.8" y1="108.54" x2="453.3" y2="108.54" stroke="#666" stroke-width="1.1"/>
<line x1="446.8" y1="93.77" x2="453.3" y2="93.77" stroke="#666" stroke-width="1.1"/>
<text transform="translate(444.3,154.45) scale(1,1.13)" font-size="12.3" text-anchor="end" fill="#2a2a2a" stroke="#2a2a2a" stroke-width="0.25">0.0</text>
<text transform="translate(444.3,124.91) scale(1,1.13)" font-size="12.3" text-anchor="end" fill="#2a2a2a" stroke="#2a2a2a" stroke-width="0.25">0.4</text>
<text transform="translate(444.3,95.37) scale(1,1.13)" font-size="12.3" text-anchor="end" fill="#2a2a2a" stroke="#2a2a2a" stroke-width="0.25">0.8</text>
<text transform="translate(393,114.7) scale(1,1.02)" font-size="12.9" fill="#222" stroke="#222" stroke-width="0.15"><tspan font-style="italic">K</tspan> = 3</text>
<path d="M446.8,154.60H453.3V228.75H446.8" fill="none" stroke="#555" stroke-width="1.1"/>
<line x1="446.8" y1="213.92" x2="453.3" y2="213.92" stroke="#666" stroke-width="1.1"/>
<line x1="446.8" y1="199.09" x2="453.3" y2="199.09" stroke="#666" stroke-width="1.1"/>
<line x1="446.8" y1="184.26" x2="453.3" y2="184.26" stroke="#666" stroke-width="1.1"/>
<line x1="446.8" y1="169.43" x2="453.3" y2="169.43" stroke="#666" stroke-width="1.1"/>
<text transform="translate(444.3,230.35) scale(1,1.13)" font-size="12.3" text-anchor="end" fill="#2a2a2a" stroke="#2a2a2a" stroke-width="0.25">0.0</text>
<text transform="translate(444.3,200.69) scale(1,1.13)" font-size="12.3" text-anchor="end" fill="#2a2a2a" stroke="#2a2a2a" stroke-width="0.25">0.4</text>
<text transform="translate(444.3,171.03) scale(1,1.13)" font-size="12.3" text-anchor="end" fill="#2a2a2a" stroke="#2a2a2a" stroke-width="0.25">0.8</text>
<text transform="translate(393,187.9) scale(1,1.02)" font-size="12.9" fill="#222" stroke="#222" stroke-width="0.15"><tspan font-style="italic">K</tspan> = 4</text>
<rect x="462.4" y="231.1" width="4.5" height="3" fill="#111"/>
<rect x="467.8" y="231.1" width="35.7" height="3" fill="#e30613"/>
<rect x="504.6" y="231.1" width="33.3" height="3" fill="#1aa3e6"/>
<rect x="539.3" y="231.1" width="21.0" height="3" fill="#e30613"/>
<rect x="561.8" y="231.1" width="17.9" height="3" fill="#1aa3e6"/>
<rect x="580.5" y="231.1" width="4.8" height="3" fill="#111"/>
<rect x="585.5" y="231.1" width="9.4" height="3" fill="#d8c6a2"/>
<rect x="595.5" y="231.1" width="50.4" height="3" fill="#0a9b48"/>
<rect x="647.3" y="231.1" width="33.7" height="3" fill="#d8c6a2"/>
<path d="M580.4,231.1H585.6V234.4L583,238.4L580.4,234.4Z" fill="#111"/>
<line x1="571.3" y1="233.2" x2="567" y2="237.4" stroke="#111" stroke-width="1.5"/>
<path d="M565.6,238.7L565.7,234.3L570,238.4Z" fill="#111"/>
<line x1="590" y1="233.2" x2="597.4" y2="238.5" stroke="#111" stroke-width="1.5"/>
<path d="M599.3,239.8L594.2,239.6L598.9,234.8Z" fill="#111"/>
<text transform="translate(459.5,247.5) scale(1,1.06)" font-size="10" fill="#222">AL</text>
<text transform="translate(478.6,247.5) scale(1,1.06)" font-size="10" fill="#222">CB</text>
<text transform="translate(509.2,247.5) scale(1,1.06)" font-size="10" fill="#222">MD</text>
<text transform="translate(542.2,247.5) scale(1,1.06)" font-size="10" fill="#222">JT</text>
<text transform="translate(558.3,247.5) scale(1,1.06)" font-size="10" fill="#222">MN</text>
<text transform="translate(578.2,247.5) scale(1,1.06)" font-size="10" fill="#222">SA</text>
<text transform="translate(593.5,247.5) scale(1,1.06)" font-size="10" fill="#222">SC</text>
<text transform="translate(617.6,247.5) scale(1,1.06)" font-size="10" fill="#222">BI</text>
<text transform="translate(657.9,247.5) scale(1,1.06)" font-size="10" fill="#222">TC</text>
</g>
<g>
<text x="9.7" y="306.9" font-family="Liberation Serif" font-size="14.5" font-weight="bold" fill="#111">c</text>
<path d="M38.8,285.4H375.4V510.3" fill="none" stroke="#333" stroke-width="1.1"/>
<path d="M38.9,285.4V510.3H375.4" fill="none" stroke="#7a7a7a" stroke-width="1.2"/>
<line x1="33.2" y1="323.7" x2="38.8" y2="323.7" stroke="#6a6a6a" stroke-width="1.1"/>
<text transform="translate(26.4,323.7) rotate(-90)" font-family="Liberation Sans" font-size="8.6" text-anchor="middle" fill="#333">0.1</text>
<line x1="33.2" y1="378.3" x2="38.8" y2="378.3" stroke="#6a6a6a" stroke-width="1.1"/>
<text transform="translate(26.4,378.3) rotate(-90)" font-family="Liberation Sans" font-size="8.6" text-anchor="middle" fill="#333">0.0</text>
<line x1="33.2" y1="432.9" x2="38.8" y2="432.9" stroke="#6a6a6a" stroke-width="1.1"/>
<text transform="translate(26.4,432.9) rotate(-90)" font-family="Liberation Sans" font-size="8.6" text-anchor="middle" fill="#333">−0.1</text>
<line x1="33.2" y1="487.5" x2="38.8" y2="487.5" stroke="#6a6a6a" stroke-width="1.1"/>
<text transform="translate(26.4,487.5) rotate(-90)" font-family="Liberation Sans" font-size="8.6" text-anchor="middle" fill="#333">−0.2</text>
<line x1="41.9" y1="510.3" x2="41.9" y2="516.2" stroke="#6a6a6a" stroke-width="1.1"/>
<text x="41.9" y="529.9" font-family="Liberation Sans" font-size="8.6" text-anchor="middle" fill="#333">−0.15</text>
<line x1="90.7" y1="510.3" x2="90.7" y2="516.2" stroke="#6a6a6a" stroke-width="1.1"/>
<text x="90.7" y="529.9" font-family="Liberation Sans" font-size="8.6" text-anchor="middle" fill="#333">−0.10</text>
<line x1="139.5" y1="510.3" x2="139.5" y2="516.2" stroke="#6a6a6a" stroke-width="1.1"/>
<text x="139.5" y="529.9" font-family="Liberation Sans" font-size="8.6" text-anchor="middle" fill="#333">−0.05</text>
<line x1="188.3" y1="510.3" x2="188.3" y2="516.2" stroke="#6a6a6a" stroke-width="1.1"/>
<text x="188.3" y="529.9" font-family="Liberation Sans" font-size="8.6" text-anchor="middle" fill="#333">0.00</text>
<line x1="237.1" y1="510.3" x2="237.1" y2="516.2" stroke="#6a6a6a" stroke-width="1.1"/>
<text x="237.1" y="529.9" font-family="Liberation Sans" font-size="8.6" text-anchor="middle" fill="#333">0.05</text>
<line x1="285.9" y1="510.3" x2="285.9" y2="516.2" stroke="#6a6a6a" stroke-width="1.1"/>
<text x="285.9" y="529.9" font-family="Liberation Sans" font-size="8.6" text-anchor="middle" fill="#333">0.10</text>
<line x1="334.7" y1="510.3" x2="334.7" y2="516.2" stroke="#6a6a6a" stroke-width="1.1"/>
<text x="334.7" y="529.9" font-family="Liberation Sans" font-size="8.6" text-anchor="middle" fill="#333">0.15</text>
<text x="213.7" y="543.5" font-family="Liberation Serif" font-size="10" text-anchor="middle" fill="#444">PC1 (9.28%)</text>
<text transform="translate(10.2,406.8) rotate(-90)" font-family="Liberation Serif" font-size="10" text-anchor="middle" fill="#444">PC2 (6.72%)</text>
<rect x="44.4" y="293.6" width="32.4" height="104.6" fill="#fff" stroke="#333" stroke-width="1"/>
<circle cx="52.1" cy="304.50" r="2.35" fill="#87ceeb"/>
<text x="59.6" y="307.60" font-family="Liberation Sans" font-size="8.6" fill="#222">AI</text>
<circle cx="52.1" cy="314.95" r="2.35" fill="#e41a1c"/>
<text x="59.6" y="318.05" font-family="Liberation Sans" font-size="8.6" fill="#222">CB</text>
<circle cx="52.1" cy="325.40" r="2.35" fill="#000000"/>
<text x="59.6" y="328.50" font-family="Liberation Sans" font-size="8.6" fill="#222">MD</text>
<circle cx="52.1" cy="335.85" r="2.35" fill="#bdbdbd"/>
<text x="59.6" y="338.95" font-family="Liberation Sans" font-size="8.6" fill="#222">JT</text>
<circle cx="52.1" cy="346.30" r="2.35" fill="#f4a460"/>
<text x="59.6" y="349.40" font-family="Liberation Sans" font-size="8.6" fill="#222">MN</text>
<circle cx="52.1" cy="356.75" r="2.35" fill="#1f3f9f"/>
<text x="59.6" y="359.85" font-family="Liberation Sans" font-size="8.6" fill="#222">SA</text>
<circle cx="52.1" cy="367.20" r="2.35" fill="#f08070"/>
<text x="59.6" y="370.30" font-family="Liberation Sans" font-size="8.6" fill="#222">SC</text>
<circle cx="52.1" cy="377.65" r="2.35" fill="#3cb43c"/>
<text x="59.6" y="380.75" font-family="Liberation Sans" font-size="8.6" fill="#222">BI</text>
<circle cx="52.1" cy="388.10" r="2.35" fill="#6a4aa8"/>
<text x="59.6" y="391.20" font-family="Liberation Sans" font-size="8.6" fill="#222">TC</text>
<circle cx="96.4" cy="293.5" r="2.35" fill="#000000"/><circle cx="97.8" cy="299" r="2.35" fill="#000000"/><circle cx="98.7" cy="294.9" r="2.35" fill="#000000"/><circle cx="99.1" cy="298.1" r="2.35" fill="#000000"/><circle cx="100.5" cy="295.8" r="2.35" fill="#000000"/><circle cx="102.3" cy="298.1" r="2.35" fill="#000000"/><circle cx="104.2" cy="299.9" r="2.35" fill="#000000"/><circle cx="104.6" cy="301.3" r="2.35" fill="#000000"/><circle cx="106.5" cy="306.3" r="2.35" fill="#000000"/><circle cx="109.7" cy="309" r="2.35" fill="#000000"/>
<circle cx="101.9" cy="302.6" r="2.35" fill="#f4a460"/><circle cx="100.1" cy="305.8" r="2.35" fill="#f4a460"/><circle cx="102.8" cy="306.3" r="2.35" fill="#f4a460"/><circle cx="101.4" cy="308.6" r="2.35" fill="#f4a460"/><circle cx="105.1" cy="307.2" r="2.35" fill="#f4a460"/><circle cx="106.9" cy="308.6" r="2.35" fill="#f4a460"/>
<circle cx="104.2" cy="332.2" r="2.5" fill="#87ceeb"/>
<circle cx="108.4" cy="335.1" r="2.5" fill="#1f3f9f"/>
<circle cx="230.5" cy="374.2" r="2.5" fill="#f08070"/><circle cx="233" cy="375.2" r="2.5" fill="#f08070"/><circle cx="235.3" cy="376.3" r="2.5" fill="#f08070"/>
<circle cx="236.6" cy="380.5" r="2.55" fill="#6a4aa8"/><circle cx="238.6" cy="380.5" r="2.55" fill="#6a4aa8"/><circle cx="240.6" cy="380.4" r="2.55" fill="#6a4aa8"/><circle cx="242.4" cy="380.3" r="2.55" fill="#6a4aa8"/><circle cx="243.4" cy="380.2" r="2.55" fill="#6a4aa8"/>
<circle cx="277.8" cy="380.6" r="2.5" fill="#bdbdbd"/><circle cx="288" cy="381.5" r="2.5" fill="#bdbdbd"/><circle cx="290.5" cy="381.5" r="2.5" fill="#bdbdbd"/><circle cx="293" cy="381.7" r="2.5" fill="#bdbdbd"/><circle cx="295.5" cy="382" r="2.5" fill="#bdbdbd"/><circle cx="297.5" cy="382.5" r="2.5" fill="#bdbdbd"/><circle cx="299.5" cy="383.5" r="2.5" fill="#bdbdbd"/>
<circle cx="324.8" cy="381.6" r="2.55" fill="#e41a1c"/><circle cx="335.3" cy="385.1" r="2.55" fill="#e41a1c"/><circle cx="342.9" cy="386.8" r="2.55" fill="#e41a1c"/><circle cx="347.8" cy="386.5" r="2.55" fill="#e41a1c"/><circle cx="350" cy="386.3" r="2.55" fill="#e41a1c"/><circle cx="352.5" cy="386.8" r="2.55" fill="#e41a1c"/><circle cx="355" cy="387.7" r="2.55" fill="#e41a1c"/>
<circle cx="362.3" cy="388" r="2.9" fill="#e41a1c"/>
<circle cx="159.8" cy="399.5" r="2.35" fill="#3cb43c"/><circle cx="132.7" cy="425.1" r="2.35" fill="#3cb43c"/><circle cx="134.6" cy="423.6" r="2.35" fill="#3cb43c"/><circle cx="109.4" cy="440" r="2.35" fill="#3cb43c"/><circle cx="102" cy="446.3" r="2.35" fill="#3cb43c"/><circle cx="103.1" cy="445.2" r="2.35" fill="#3cb43c"/><circle cx="104.2" cy="444.1" r="2.35" fill="#3cb43c"/><circle cx="82.6" cy="461.9" r="2.35" fill="#3cb43c"/><circle cx="61.6" cy="493.2" r="2.35" fill="#3cb43c"/><circle cx="59.5" cy="494.5" r="2.35" fill="#3cb43c"/><circle cx="55.1" cy="496.7" r="2.35" fill="#3cb43c"/><circle cx="54.6" cy="498.9" r="2.35" fill="#3cb43c"/><circle cx="52.5" cy="501.1" r="2.35" fill="#3cb43c"/><circle cx="51.1" cy="502.6" r="2.35" fill="#3cb43c"/>
<ellipse cx="104.8" cy="305.8" rx="23.2" ry="11.9" transform="rotate(38 104.8 305.8)" fill="none" stroke="#e3101c" stroke-width="1.5"/>
<ellipse cx="104.35" cy="334.8" rx="10.75" ry="10.3" fill="none" stroke="#e3101c" stroke-width="1.5"/>
<ellipse cx="295.3" cy="382.45" rx="78" ry="27.2" transform="rotate(4.5 295.3 382.45)" fill="none" stroke="#e3101c" stroke-width="1.5"/>
<ellipse cx="114.25" cy="448.86" rx="89.4" ry="27.43" transform="rotate(-37.93 114.25 448.86)" fill="none" stroke="#e3101c" stroke-width="1.5"/>
<text x="122.8" y="305.9" font-family="Liberation Serif" font-size="12.5" font-weight="bold" fill="#231f20">Moroccan populations</text>
<text x="82.4" y="361.1" font-family="Liberation Serif" font-size="12.5" font-weight="bold" fill="#231f20">French populations</text>
<text x="252" y="420.4" font-family="Liberation Serif" font-size="12.5" font-weight="bold" fill="#231f20">Chinese populations</text>
<text x="116.4" y="493.1" font-family="Liberation Serif" font-size="12.5" font-weight="bold" fill="#231f20">Bezoar ibex</text>
</g>
<g font-family="Liberation Sans">
<text x="415.1" y="306.9" font-family="Liberation Serif" font-size="14.5" font-weight="bold" fill="#111">d</text>
<path d="M447.6,342.2L506.7,333M447.6,342.2L507.1,417.9M507.1,417.9L539.8,380.3M539.8,380.3L580.5,361.3M580.5,361.3L624.6,351.6M580.5,361.3L636.9,371.1M539.8,380.3L580.5,398.9M580.5,398.9L582.9,390.3M580.5,398.9L583.7,408.7M507.1,417.9L554.4,436.3M554.4,436.3L602.2,427.4M554.4,436.3L556.1,456.3M556.1,456.3L583.8,446.3M556.1,456.3L587.7,475.2M587.7,475.2L644.9,465.2M587.7,475.2L606.2,484.8" stroke="#383838" stroke-width="0.95" fill="none"/>
<line x1="596.3" y1="363.8" x2="583.6" y2="387.6" stroke="#f9a62c" stroke-width="1"/>
<path d="M582.6,389.9L582.3,385.6L585.2,387.2Z" fill="#f9a62c"/>
<line x1="581" y1="402.1" x2="555.8" y2="434.4" stroke="#f7822e" stroke-width="1"/>
<path d="M554.4,436.2L555,432L557.6,434.1Z" fill="#f7822e"/>
<text x="516.2" y="335.8" font-size="8.6" fill="#111">BI</text>
<text x="633.8" y="354.7" font-size="8.6" fill="#111">SA</text>
<text x="646.1" y="373.7" font-size="8.6" fill="#111">AL</text>
<text x="592.8" y="392.6" font-size="8.6" fill="#111">MN</text>
<text x="593.9" y="411" font-size="8.6" fill="#111">MD</text>
<text x="611.4" y="430.3" font-size="8.6" fill="#111">SC</text>
<text x="593.4" y="450.1" font-size="8.6" fill="#111">TC</text>
<text x="654" y="468.9" font-size="8.6" fill="#111">CB</text>
<text x="615.4" y="487.9" font-size="8.6" fill="#111">JT</text>
<defs><linearGradient id="mg" x1="0" y1="0" x2="0" y2="1"><stop offset="0" stop-color="#ff0000"/><stop offset="0.5" stop-color="#ff7a00"/><stop offset="1" stop-color="#ffe600"/></linearGradient></defs>
<rect x="447.3" y="417" width="10.4" height="34.8" fill="url(#mg)"/>
<text transform="translate(447.3,408.2) scale(0.94,1)" font-size="5.4" fill="#222">Migration</text>
<text transform="translate(447.3,413.6) scale(0.94,1)" font-size="5.4" fill="#222">weight</text>
<text transform="translate(466.9,419.2) scale(0.89,1)" font-size="6.4" fill="#222">0.5</text>
<text transform="translate(466.9,453.4) scale(0.89,1)" font-size="6.4" fill="#222">0</text>
<path d="M447.6,475V478.7M447.6,476.85H451M451,475V478.7" stroke="#222" stroke-width="0.8" fill="none"/>
<text transform="translate(447.3,486) scale(0.9,1)" font-size="8.1" fill="#222">10 s.e.</text>
<path d="M447.7,495.3V490.5H634.4V495.3M509.9,490.5V495.3M572.1,490.5V495.3" stroke="#333" stroke-width="1" fill="none"/>
<text x="447.7" y="509.4" font-size="8.6" text-anchor="middle" fill="#111">0.00</text>
<text x="509.9" y="509.4" font-size="8.6" text-anchor="middle" fill="#111">0.02</text>
<text x="572.1" y="509.4" font-size="8.6" text-anchor="middle" fill="#111">0.04</text>
<text x="634.3" y="509.4" font-size="8.6" text-anchor="middle" fill="#111">0.06</text>
<text x="561.3" y="530.2" font-size="8.6" text-anchor="middle" fill="#111">Drift parameter</text>
</g>
</svg></body></html>
